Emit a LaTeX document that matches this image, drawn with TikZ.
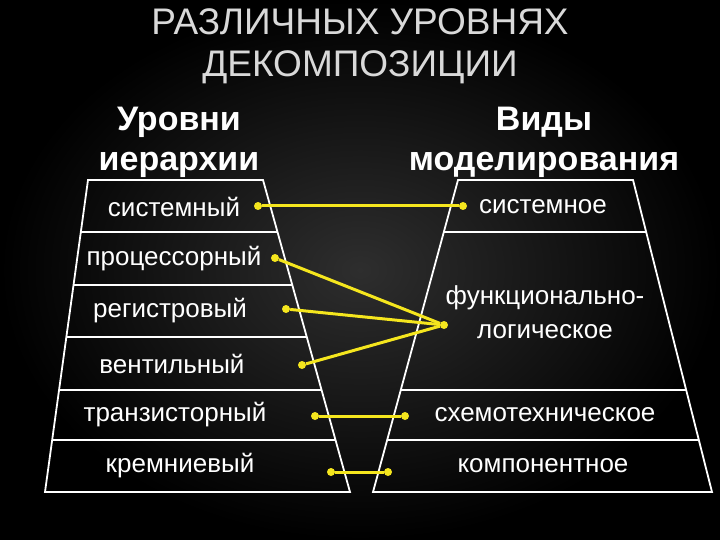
\documentclass[tikz,border=0pt]{standalone}
\usepackage{fontspec}
\setmainfont{Liberation Sans}
\usetikzlibrary{calc}
\definecolor{yel}{HTML}{F5E61E}
\definecolor{ttl}{HTML}{D9D9D9}
\begin{document}
\begin{tikzpicture}[x=1pt,y=-1pt,
  edge/.style={white,line width=1.8pt},
  lab/.style={white,font=\fontsize{26}{30}\selectfont,inner sep=0pt},
  head/.style={white,font=\bfseries\fontsize{34}{40}\selectfont,align=center,inner sep=0pt},
  conn/.style={yel,line width=3pt},
  dot/.style={circle,fill=yel,inner sep=0pt,minimum size=8pt}]
\useasboundingbox (0,0) rectangle (720,540);
\shade[inner color=black!82,outer color=black] (0,0) rectangle (720,540);
\node[ttl,font=\fontsize{37}{42}\selectfont,align=center] (title) at (360,46) {РАЗЛИЧНЫХ УРОВНЯХ\\ДЕКОМПОЗИЦИИ};
\node[head] (hl) at (179,142) {Уровни\\иерархии};
\node[head] (hr) at (544,142) {Виды\\моделирования};
% left trapezoid
\coordinate (LTL) at (88,180); \coordinate (LTR) at (263,180);
\coordinate (LBL) at (45,492); \coordinate (LBR) at (350,492);
\draw[edge] (LTL) -- (LTR) -- (LBR) -- (LBL) -- cycle;
\foreach \y in {232,285,337,390,440}{
  \draw[edge] ($(LTL)!{(\y-180)/312}!(LBL)$) -- ($(LTR)!{(\y-180)/312}!(LBR)$);}
% right trapezoid
\coordinate (RTL) at (458,180); \coordinate (RTR) at (633,180);
\coordinate (RBL) at (373,492); \coordinate (RBR) at (712,492);
\draw[edge] (RTL) -- (RTR) -- (RBR) -- (RBL) -- cycle;
\foreach \y in {232,390,440}{
  \draw[edge] ($(RTL)!{(\y-180)/312}!(RBL)$) -- ($(RTR)!{(\y-180)/312}!(RBR)$);}
% labels
\node[lab] (l1) at (174,207) {системный};
\node[lab] (l2) at (174,259) {процессорный};
\node[lab] (l3) at (170,311) {регистровый};
\node[lab] (l4) at (172,364) {вентильный};
\node[lab] (l5) at (175,415) {транзисторный};
\node[lab] (l6) at (180,466) {кремниевый};
\node[lab] (r1) at (543,207) {системное};
\node[lab,align=center,font=\fontsize{26}{34}\selectfont] (r2) at (545,312) {функционально-\\логическое};
\node[lab] (r3) at (545,415) {схемотехническое};
\node[lab] (r4) at (543,466) {компонентное};
% dots
\node[dot] (a1) at (258,206) {}; \node[dot] (b1) at (463,206) {};
\node[dot] (a2) at (275,258) {}; \node[dot] (b2) at (444,325) {};
\node[dot] (a3) at (286,309) {};
\node[dot] (a4) at (302,365) {};
\node[dot] (a5) at (315,416) {}; \node[dot] (b5) at (405,416) {};
\node[dot] (a6) at (331,472) {}; \node[dot] (b6) at (388,472) {};
\draw[conn] (a1) -- (b1);
\draw[conn] (a2) -- (b2);
\draw[conn] (a3) -- (b2);
\draw[conn] (a4) -- (b2);
\draw[conn] (a5) -- (b5);
\draw[conn] (a6) -- (b6);
\end{tikzpicture}
\end{document}
